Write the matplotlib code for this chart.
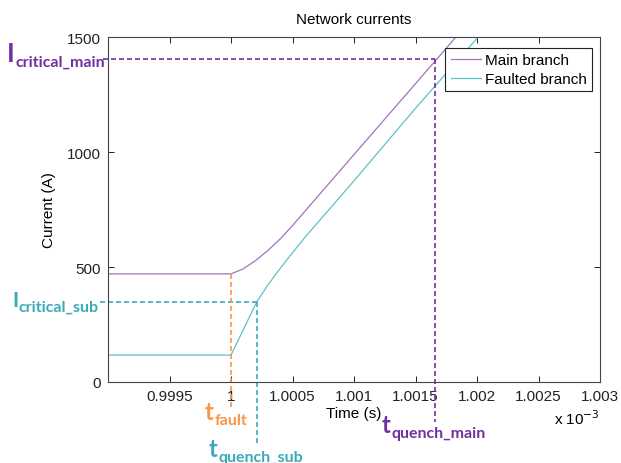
import matplotlib
matplotlib.use("Agg")
import matplotlib.pyplot as plt
from matplotlib.ticker import FuncFormatter

# ---- data (time in ms, i.e. x 10^-3 s; current in A) ----
main_t = [0.999, 1.0, 1.0001, 1.0002, 1.0003, 1.0004, 1.0005, 1.0006, 1.001, 1.0015, 1.0019]
main_I = [470, 470, 492, 528, 572, 622, 680, 742, 989, 1297, 1544]
fault_t = [0.999, 1.0, 1.00021, 1.0003, 1.0004, 1.0005, 1.0006, 1.0007, 1.001, 1.0015, 1.0021]
fault_I = [117, 117, 349, 422, 494, 562, 628, 690, 875, 1190, 1555]

t_fault = 1.0
t_quench_sub = 1.00021
I_critical_sub = 349
t_quench_main = 1.00166
I_critical_main = 1404

x_ticks = [0.9995, 1.0, 1.0005, 1.001, 1.0015, 1.002, 1.0025, 1.003]
y_ticks = [0, 500, 1000, 1500]

plt.rcParams['font.family'] = ['Liberation Sans', 'DejaVu Sans']

W, H = 621, 464
fig = plt.figure(figsize=(W / 100, H / 100), dpi=100)
ax = fig.add_axes([108 / W, 1 - 383 / H, 492 / W, 345 / H])

c_main = '#a472bf'
c_fault = '#5cc3c3'
c_purple = '#7030a0'
c_teal = '#3aaabb'
c_orange = '#f79646'

ax.plot(main_t, main_I, color=c_main, lw=0.9, label='Main branch')
ax.plot(fault_t, fault_I, color=c_fault, lw=0.9, label='Faulted branch')

ax.set_xlim(0.999, 1.003)
ax.set_ylim(0, 1500)
ax.set_xticks(x_ticks)
ax.set_yticks(y_ticks)
ax.xaxis.set_major_formatter(FuncFormatter(lambda v, p: f'{v:.4f}'.rstrip('0').rstrip('.')))
ax.tick_params(direction='in', top=True, right=True, length=4.5, width=0.7,
               labelsize=11, pad=5, colors='#222222')
for s in ax.spines.values():
    s.set_color('#444444')
    s.set_linewidth(0.8)

ax.set_title('Network currents', fontsize=11, pad=10)
ax.set_xlabel('Time (s)', fontsize=11, labelpad=2)
ax.set_ylabel('Current (A)', fontsize=11, labelpad=8)

leg = ax.legend(loc='upper right', bbox_to_anchor=(0.984, 0.968), fontsize=11,
                fancybox=False, edgecolor='#222222', framealpha=1,
                handlelength=2.0, handletextpad=0.25, borderpad=0.35, labelspacing=0.3,
                borderaxespad=0)
leg.get_frame().set_linewidth(0.8)

fig.text(600 / W, 1 - 425 / H, r'x 10$^{-3}$', ha='right', va='baseline', fontsize=11)

# ---- annotation dashed lines ----
ypp = 1500 / 345.0   # A per pixel
xpp = 0.004 / 492.0  # ms per pixel
dash = (0, (3, 1.8))
ax.plot([0.999 - 5 * xpp, t_quench_main], [I_critical_main, I_critical_main],
        color=c_purple, ls=dash, lw=1.2, clip_on=False)
ax.plot([t_quench_main, t_quench_main], [I_critical_main, -40 * ypp],
        color=c_purple, ls=dash, lw=1.2, clip_on=False)
ax.plot([0.999 - 8 * xpp, t_quench_sub], [I_critical_sub, I_critical_sub],
        color=c_teal, ls=dash, lw=1.2, clip_on=False)
ax.plot([t_quench_sub, t_quench_sub], [I_critical_sub, -62 * ypp],
        color=c_teal, ls=dash, lw=1.2, clip_on=False)
ax.plot([t_fault, t_fault], [470, -27 * ypp],
        color=c_orange, ls=dash, lw=1.2, clip_on=False)

# ---- annotation labels ----
def label(x_px, y_px, big, sub, color, big_size, sub_size, drop=3):
    bt = fig.text(x_px / W, 1 - y_px / H, big, ha='left', va='baseline',
                  fontsize=big_size, color=color, family='Lato', weight='bold')
    ax.annotate(sub, xy=(1, 0), xycoords=bt, xytext=(0.5, -drop),
                textcoords='offset points', ha='left', va='bottom',
                fontsize=sub_size, color=color, family='Lato', weight='bold',
                annotation_clip=False)

label(7, 62, 'I', 'critical_main', c_purple, 19, 11.5)
label(12, 307, 'I', 'critical_sub', c_teal, 15, 11.5)
label(205, 420, 't', 'fault', c_orange, 17, 11.5)
label(209, 457, 't', 'quench_sub', c_teal, 17, 11.5)
label(382, 433, 't', 'quench_main', c_purple, 17, 11.5)

fig.savefig('out.png', dpi=100)
